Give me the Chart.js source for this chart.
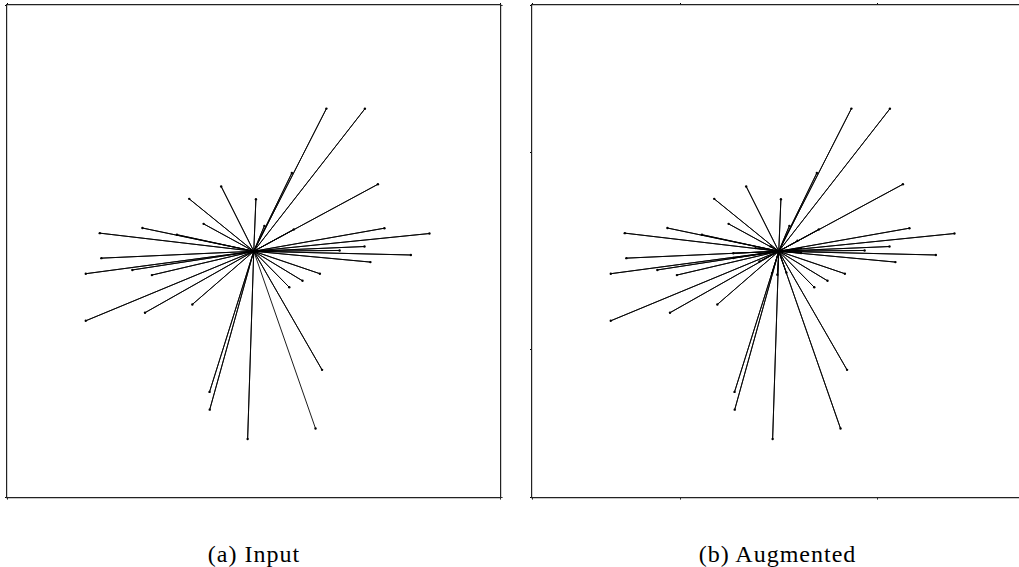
<!DOCTYPE html>
<html>
<head>
<meta charset="utf-8">
<script src="https://cdn.jsdelivr.net/npm/chart.js@4.4.1/dist/chart.umd.min.js"></script>
<style>
    html, body { margin: 0; padding: 0; background: #fff; width: 1019px; height: 567px; overflow: hidden; }
    .panel { position: absolute; top: 0; width: 510px; height: 505px; }
    .caption { position: absolute; top: 542px; width: 300px; text-align: center; font-family: "Liberation Serif", serif; font-size: 24px; letter-spacing: 1px; line-height: 1; color: #000; }
</style>
</head>
<body>
<div class="panel" style="left:0px"><canvas id="chart-input" width="510" height="505"></canvas></div>
<div class="panel" style="left:524.5px"><canvas id="chart-augmented" width="510" height="505"></canvas></div>
<div class="caption" style="left:104px">(a) Input</div>
<div class="caption" style="left:627.5px">(b) Augmented</div>
<script>
// star centre and spoke end points
var centerX = 0;
var centerY = 0;

var inputX = [0.368, 0.563, 0.193, 0.629, -0.165, -0.327, 0.011, -0.254, 0.054, 0.203, -0.564, -0.389,
    -0.780, 0.662, 0.890, 0.561, 0.435, 0.796, 0.591, -0.772, -0.851, -0.615, -0.516, 0.335, 0.247, 0.180,
    -0.311, -0.551, -0.851, 0.346, -0.224, -0.223, -0.031, 0.313];
var inputY = [0.724, 0.723, 0.397, 0.340, 0.329, 0.266, 0.264, 0.139, 0.129, 0.111, 0.118, 0.084,
    0.092, 0.117, 0.090, 0.024, 0.004, -0.019, -0.055, -0.035, -0.114, -0.095, -0.121, -0.114, -0.150, -0.183,
    -0.270, -0.312, -0.353, -0.602, -0.714, -0.804, -0.953, -0.900];

// extra short spokes added by the augmentation
var extraX = [-0.118, -0.230, -0.230, -0.098, -0.042, -0.034, -0.007, 0.039, 0.113, 0.113, 0.095];
var extraY = [0.016, -0.010, -0.034, -0.052, 0.025, -0.111, -0.119, -0.109, 0.016, -0.009, 0.053];

var axisMin = -1.25;
var axisMax = 1.25;
var inputTicks = [-1.25, 1.25];
var augmentedTicks = [-1.25, -0.5, 0.5, 1.25];

function spokes(xs, ys) {
    var pts = [];
    for (var i = 0; i < xs.length; i++) {
        pts.push({ x: centerX, y: centerY });
        pts.push({ x: xs[i], y: ys[i] });
    }
    return pts;
}

function makeAxis(position, tickValues) {
    return {
        type: 'linear',
        position: position,
        min: axisMin,
        max: axisMax,
        afterBuildTicks: (scale) => {
            scale.ticks = tickValues.map((v) => ({ value: v }));
        },
        afterFit: (scale) => {
            if (position == 'left' || position == 'right')
                scale.width = 0;
            else
                scale.height = 0;
        },
        ticks: { display: false },
        grid: {
            drawOnChartArea: false,
            drawTicks: true,
            tickLength: 2,
            color: '#000',
            lineWidth: 1
        },
        border: { display: true, color: '#222', width: 1.2 }
    };
}

function drawStar(canvasId, points, tickValues) {
    new Chart(document.getElementById(canvasId), {
        type: 'scatter',
        data: {
            datasets: [{
                data: points,
                showLine: true,
                borderColor: '#000',
                backgroundColor: '#000',
                borderWidth: 0.9,
                pointRadius: (ctx) => ctx.dataIndex % 2 ? 1.2 : 0,
                pointBorderWidth: 0
            }]
        },
        options: {
            responsive: false,
            animation: false,
            layout: { padding: { left: 7, right: 9.5, top: 5, bottom: 7.5 } },
            plugins: {
                legend: { display: false },
                tooltip: { enabled: false }
            },
            scales: {
                x: makeAxis('bottom', tickValues),
                x2: makeAxis('top', tickValues),
                y: makeAxis('left', tickValues),
                y2: makeAxis('right', tickValues)
            }
        }
    });
}

drawStar('chart-input', spokes(inputX, inputY), inputTicks);
drawStar('chart-augmented', spokes(inputX.concat(extraX), inputY.concat(extraY)), augmentedTicks);
</script>
</body>
</html>
